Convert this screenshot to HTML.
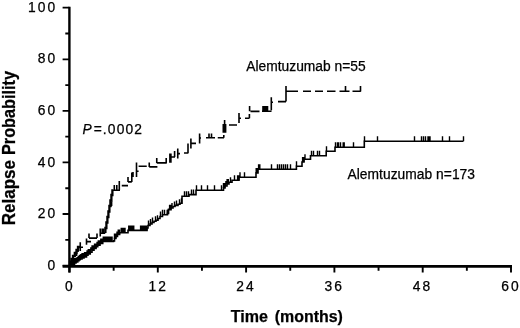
<!DOCTYPE html>
<html lang="en">
<head>
<meta charset="utf-8">
<title>Relapse Probability</title>
<style>
html,body{margin:0;padding:0;background:#fff;}
body{width:520px;height:328px;overflow:hidden;position:relative;font-family:"Liberation Sans",Arial,sans-serif;}
svg{position:absolute;left:0;top:0;display:block;}
text{font-family:"Liberation Sans",Arial,sans-serif;fill:#000;stroke:#000;stroke-width:0.25px;}
.tk{font-size:13.8px;letter-spacing:2.1px;}
.lb{font-size:13.8px;}
.ttl{font-size:16px;font-weight:bold;}
</style>
</head>
<body>
<svg width="520" height="328" viewBox="0 0 520 328">
<rect width="520" height="328" fill="#ffffff"/>
<g id="axes" stroke="#000" fill="none">
<path d="M69.40,6.8V272.6" stroke-width="2.4"/>
<path d="M62.6,266.40H512" stroke-width="2.8"/>
<path d="M62.60,265.60H69.40M65.30,239.81H69.40M62.60,214.02H69.40M65.30,188.23H69.40M62.60,162.44H69.40M65.30,136.65H69.40M62.60,110.86H69.40M65.30,85.07H69.40M62.60,59.28H69.40M65.30,33.49H69.40M62.60,7.70H69.40" stroke-width="1.8"/>
<path d="M69.50,266.40V272.60M113.65,266.40V270.80M157.80,266.40V272.60M201.95,266.40V270.80M246.10,266.40V272.60M290.25,266.40V270.80M334.40,266.40V272.60M378.55,266.40V270.80M422.70,266.40V272.60M466.85,266.40V270.80M511.00,266.40V272.60" stroke-width="1.9"/>
</g>
<g id="curves" stroke="#000" fill="none" stroke-linejoin="miter">
<path d="M69.50,265.50 H71.00 V265.00 H72.75 V264.30 H74.50 V263.00 H76.00 V262.00 H77.75 V260.80 H79.00 V259.80 H80.25 V259.00 H82.00 V258.00 H84.00 V257.00 H86.50 V255.30 H88.00 V254.00 H90.25 V252.20 H92.00 V250.30 H94.00 V248.40 H96.00 V246.80 H97.75 V245.30 H100.00 V243.50 H102.75 V241.50 H113.50 V240.90 H114.50 V238.50 H115.90 V236.50 H117.50 V234.50 H119.60 V232.80 H128.00 V230.40 H147.00 V228.00 H148.00 V225.50 H150.00 V224.00 H152.00 V222.50 H154.00 V221.30 H156.00 V220.20 H158.00 V218.50 H160.00 V216.50 H162.50 V214.80 H167.50 V213.50 H168.50 V209.80 H171.00 V208.00 H173.00 V206.50 H175.00 V205.40 H178.00 V204.30 H180.00 V203.30 H182.00 V196.20 H189.00 V194.60 H196.00 V190.20 H223.50 V188.00 H225.00 V186.00 H227.00 V184.00 H229.00 V182.30 H232.00 V180.30 H239.00 V177.30 H256.00 V173.00 H258.00 V169.20 H296.40 V166.20 H302.00 V162.00 H304.00 V159.20 H310.50 V155.80 H326.20 V151.20 H335.00 V147.20 H364.30 V141.20 H463.40 V141.20" stroke-width="1.6"/>
<path d="M70.80,265.50V260.50M72.05,265.00V260.00M73.30,264.30V259.30M74.55,263.00V258.00M75.80,263.00V258.00M77.05,262.00V257.00M78.30,260.80V255.80M79.55,259.80V254.80M80.80,259.00V254.00M82.05,258.00V253.00M83.30,258.00V253.00M84.55,257.00V252.00M85.80,257.00V252.00M87.05,255.30V250.30M88.30,254.00V249.00M89.55,254.00V249.00M90.80,252.20V247.20M92.05,250.30V245.30M93.30,250.30V245.30M94.55,248.40V243.40M95.80,248.40V243.40M97.05,246.80V241.80M98.30,245.30V240.30M99.55,245.30V240.30M100.80,243.50V238.50M102.05,243.50V238.50M103.30,241.50V236.50M104.55,241.50V236.50M105.80,241.50V236.50M107.05,241.50V236.50M108.30,241.50V236.50M109.55,241.50V236.50M110.80,241.50V236.50M112.05,241.50V236.50M114.50,238.50V233.50M115.75,238.50V233.50M117.00,236.50V231.50M118.25,234.50V229.50M119.50,234.50V229.50M121.25,232.80V227.80M122.50,232.80V227.80M123.75,232.80V227.80M125.00,232.80V227.80M128.75,230.40V225.40M130.00,230.40V225.40M131.25,230.40V225.40M132.50,230.40V225.40M133.75,230.40V225.40M140.60,230.40V225.40M141.85,230.40V225.40M143.10,230.40V225.40M144.35,230.40V225.40M145.60,230.40V225.40M146.85,230.40V225.40M167.20,214.80V209.80M168.40,213.50V208.50M169.60,209.80V204.80M170.80,209.80V204.80M172.00,208.00V203.00M223.50,188.00V183.00M224.70,188.00V183.00M225.90,186.00V181.00M227.10,184.00V179.00M228.30,184.00V179.00M237.60,180.30V175.30M238.80,180.30V175.30M240.00,177.30V172.30M256.20,173.00V168.00M257.40,173.00V168.00M258.60,169.20V164.20M259.80,169.20V164.20M302.60,162.00V157.00M303.80,162.00V157.00M305.00,159.20V154.20M343.20,147.20V142.20M344.20,147.20V142.20M428.00,141.20V136.20M429.00,141.20V136.20M430.00,141.20V136.20M148.50,225.50V220.50M150.50,224.00V219.00M152.50,222.50V217.50M155.50,221.30V216.30M157.50,220.20V215.20M160.50,216.50V211.50M162.50,214.80V209.80M164.50,214.80V209.80M174.50,206.50V201.50M176.50,205.40V200.40M179.50,204.30V199.30M181.50,203.30V198.30M184.50,196.20V191.20M186.50,196.20V191.20M188.50,196.20V191.20M191.50,194.60V189.60M193.50,194.60V189.60M196.50,190.20V185.20M201.50,190.20V185.20M207.50,190.20V185.20M214.50,190.20V185.20M221.50,190.20V185.20M230.50,182.30V177.30M234.50,180.30V175.30M244.50,177.30V172.30M271.50,169.20V164.20M277.50,169.20V164.20M279.50,169.20V164.20M281.50,169.20V164.20M283.50,169.20V164.20M285.50,169.20V164.20M287.50,169.20V164.20M290.50,169.20V164.20M296.50,166.20V161.20M311.50,155.80V150.80M313.50,155.80V150.80M317.50,155.80V150.80M319.50,155.80V150.80M326.50,151.20V146.20M335.50,147.20V142.20M337.50,147.20V142.20M338.50,147.20V142.20M340.50,147.20V142.20M353.50,147.20V142.20M364.50,141.20V136.20M377.50,141.20V136.20M414.50,141.20V136.20M421.50,141.20V136.20M423.50,141.20V136.20M425.50,141.20V136.20M442.50,141.20V136.20M449.50,141.20V136.20M463.50,141.20V136.20" stroke-width="1.4"/>
<path d="M76.50,256.00V251.00M78.00,252.00V247.00M80.25,251.00V242.25M80.25,247.25H83.00M86.50,244.75V238.50M86.50,241.60H91.00M89.00,238.10H97.00M89.00,238.10V233.50M97.00,238.10V233.50M100.25,233.30H105.25M100.25,236.50V228.50M102.20,233.30V228.50M103.80,233.30V228.50M111.60,206.00V201.50M110.40,206.00H111.60M113.00,190.30H120.00M114.30,190.30V185.00M116.80,190.30V185.00M119.30,190.30V181.00M121.75,185.60H128.00M128.00,181.90V177.00M128.00,181.90H131.80M131.80,181.90V172.50M133.00,177.00V172.00M136.50,177.00V162.50M136.50,171.25H138.60M138.60,166.25H146.75M149.25,166.90V162.50M149.25,166.90H157.40M156.75,162.90V158.00M156.75,162.90H166.75M166.20,162.90V158.00M170.90,162.75V153.40M169.90,162.75V153.40M171.00,157.00H175.00M174.60,157.00V151.00M177.75,158.40V148.40M177.75,153.60H180.00M184.00,153.00H188.40M188.00,153.00V143.40M190.90,148.40V138.40M191.00,143.40H196.00M199.60,143.40V133.40M199.60,138.00H201.00M206.00,137.75H215.00M209.00,137.75V133.40M211.50,137.75V133.40M217.75,137.75H224.00M223.80,137.75V135.00M223.30,132.75V124.00M224.60,132.75V120.00M225.60,132.75V124.00M229.00,125.00H237.00M239.00,123.00V113.00M239.00,118.20H241.00M245.00,118.20H249.40M249.40,118.20V114.00M249.60,111.20V106.00M250.50,111.40H259.50M262.00,111.20H271.50M263.00,111.20V106.00M264.50,111.20V106.00M266.00,111.20V106.00M267.50,111.20V106.00M271.30,110.30V97.20M271.30,102.20H273.00M278.00,101.60H286.00M286.00,101.60V86.00M286.00,91.20H298.00M303.00,91.20H311.00M315.00,91.20H323.00M327.00,91.20H335.50M339.50,91.20H349.50M345.50,91.20V86.00M352.50,91.20H360.80M360.50,91.60V86.00" stroke-width="1.6"/>
<path d="M70,265.3V262H71.5V259H73V256H74.8V253H76.5V250H78V247H80.25M105.4,232.9V228H106.4V222.5H107.4V217H108.4V211.5H109.4V206H110.4V200.5H111.4V195H112.4V190.3H113" stroke-width="2.3"/>
</g>
<g id="ylabels">
<text class="tk" x="57.3" y="269.70" text-anchor="end">0</text>
<text class="tk" x="57.3" y="218.12" text-anchor="end">20</text>
<text class="tk" x="57.3" y="166.54" text-anchor="end">40</text>
<text class="tk" x="57.3" y="114.96" text-anchor="end">60</text>
<text class="tk" x="57.3" y="63.38" text-anchor="end">80</text>
<text class="tk" x="57.3" y="11.80" text-anchor="end">100</text>
</g>
<g id="xlabels">
<text class="tk" x="70.00" y="290.8" text-anchor="middle">0</text>
<text class="tk" x="158.30" y="290.8" text-anchor="middle">12</text>
<text class="tk" x="246.00" y="290.8" text-anchor="middle">24</text>
<text class="tk" x="334.30" y="290.8" text-anchor="middle">36</text>
<text class="tk" x="422.60" y="290.8" text-anchor="middle">48</text>
<text class="tk" x="510.90" y="290.8" text-anchor="middle">60</text>
</g>
<text class="lb" x="246.3" y="71.3" textLength="119.3" lengthAdjust="spacing">Alemtuzumab n=55</text>
<text class="lb" x="347.5" y="178.5" textLength="127.5" lengthAdjust="spacing">Alemtuzumab n=173</text>
<text x="82.4" y="133.9" style="font-size:13.8px;letter-spacing:1.15px"><tspan font-style="italic">P</tspan><tspan dx="0.9">=.0002</tspan></text>
<text class="ttl" x="230.7" y="322.1" style="font-size:16.5px"><tspan textLength="37.2" lengthAdjust="spacingAndGlyphs">Time</tspan> <tspan x="274.7" textLength="68.2" lengthAdjust="spacingAndGlyphs">(months)</tspan></text>
<text class="ttl" transform="translate(14.8,225.2) rotate(-90) scale(1,1.06)" textLength="65.2" lengthAdjust="spacingAndGlyphs" style="font-size:16.6px">Relapse</text>
<text class="ttl" transform="translate(14.8,155) rotate(-90) scale(1,1.06)" textLength="84" lengthAdjust="spacingAndGlyphs" style="font-size:16.6px">Probability</text>
</svg>
</body>
</html>
